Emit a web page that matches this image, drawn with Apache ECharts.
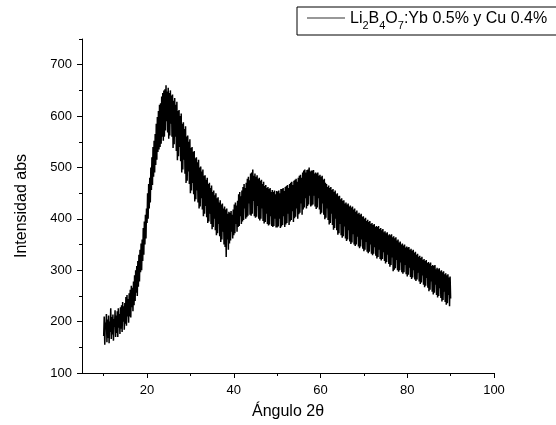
<!DOCTYPE html>
<html>
<head>
<meta charset="utf-8">
<script src="https://cdn.jsdelivr.net/npm/echarts@6/dist/echarts.min.js"></script>
<style>
html,body{margin:0;padding:0;background:#fff;}
#c{width:556px;height:425px;}
</style>
</head>
<body>
<div id="c"></div>
<script>
// Data: intensity, angle 2θ from 10 to 90 in steps of 0.125
var xStart = 10;
var xStep = 0.125;
var intensity = [
172,210,155,198,185,215,160,204, 168,212,158,200,180,226,166,209,
175,214,163,205,190,222,170,212, 178,220,170,226,188,215,176,228,
186,232,180,238,200,230,184,236, 196,248,192,252,210,244,198,255,
210,262,208,270,228,266,220,278, 232,290,240,300,256,308,250,318,
268,330,278,340,296,352,300,360, 318,382,330,395,350,408,362,420,
392,450,400,468,420,480,432,500, 456,520,466,540,482,552,490,565,
505,585,515,598,530,610,535,622, 540,625,546,638,560,645,552,650,
560,652,572,660,590,648,568,655, 556,645,562,650,585,640,560,642,
538,630,545,635,560,622,532,628, 514,610,522,612,540,600,512,605,
490,585,496,588,515,575,488,580, 470,560,474,562,492,550,468,555,
450,538,455,540,470,530,448,532, 434,518,438,520,455,510,432,515,
420,500,424,502,440,492,418,496, 405,484,410,485,425,476,403,480,
392,468,395,470,410,460,390,465, 380,452,384,455,400,446,378,450,
368,440,372,442,390,432,366,436, 355,428,360,430,375,420,350,424,
345,418,326,420,360,410,340,414, 352,412,358,415,375,408,362,418,
368,428,372,432,390,426,375,435, 384,448,386,452,405,444,390,455,
395,462,398,468,420,460,400,470, 403,478,406,482,430,475,408,488,
406,490,410,496,435,484,405,488, 402,482,404,485,425,478,400,480,
397,474,400,476,420,468,396,472, 391,464,394,466,410,460,390,462,
387,458,389,460,405,452,386,456, 384,452,386,455,400,448,383,454,
383,453,385,455,400,450,382,458, 385,458,388,460,405,454,384,462,
389,464,392,466,410,460,388,468, 395,470,398,472,415,466,394,474,
401,476,404,478,420,472,400,480, 409,484,412,486,430,480,408,490,
418,494,422,496,440,490,420,495, 425,496,428,500,445,492,424,494,
426,494,428,495,445,488,424,490, 419,488,422,490,440,484,418,486,
409,482,412,484,430,476,408,478, 399,470,402,468,420,462,398,465,
389,460,392,462,410,456,388,458, 379,452,382,455,400,448,378,450,
369,444,372,445,390,438,368,440, 363,435,366,436,385,430,362,432,
357,428,360,430,378,424,356,426, 351,422,354,424,370,418,350,420,
347,414,350,416,365,410,346,412, 343,408,346,410,360,404,342,405,
337,400,340,402,355,396,336,398, 333,394,336,396,350,390,332,392,
329,388,332,390,345,384,328,386, 323,384,326,386,340,380,322,382,
319,378,322,380,335,374,318,376, 313,372,316,374,330,368,312,370,
307,368,310,370,325,364,298,366, 301,362,304,364,320,358,300,360,
297,354,300,356,315,350,296,352, 293,348,296,350,310,344,292,346,
288,344,291,345,305,340,287,342, 283,338,286,340,300,334,282,336,
279,330,282,332,295,326,278,328, 273,324,276,326,290,320,272,322,
267,318,270,320,285,314,266,316, 259,313,262,315,278,308,258,310,
253,308,256,310,272,302,252,305, 247,302,250,304,265,298,246,300,
239,296,242,298,258,292,238,294, 233,290,236,292,252,286,230,288,
245
];
var xTickLabels = [20, 40, 60, 80, 100];
var xMinorTicks = [10, 30, 50, 70, 90];
var yTickLabels = [100, 200, 300, 400, 500, 600, 700];
var yMinorTicks = [150, 250, 350, 450, 550, 650, 750];
var seriesName = 'Li2B4O7:Yb 0.5% y Cu 0.4%';

var points = intensity.map(function (v, i) { return [xStart + i * xStep, v]; });

var font = 'Liberation Sans, Arial, sans-serif';
var chart = echarts.init(document.getElementById('c'), null, {renderer: 'canvas'});
chart.setOption({
  animation: false,
  backgroundColor: '#fff',
  grid: {left: 82, right: 62, top: 39, bottom: 52, containLabel: false},
  legend: {
    left: 297, top: 7,
    padding: [4, 40, 4, 10],
    borderColor: '#000', borderWidth: 1, borderRadius: 0,
    itemWidth: 38, itemHeight: 1, itemGap: 0,
    icon: 'rect',
    data: [{name: seriesName, itemStyle: {color: '#333'}}],
    formatter: function () {
      return '{n|Li}{s|2}{n|B}{s|4}{n|O}{s|7}{n|:Yb 0.5% y Cu 0.4%}';
    },
    textStyle: {
      fontFamily: font, fontSize: 16, color: '#000',
      rich: {
        n: {fontFamily: font, fontSize: 16, color: '#000', verticalAlign: 'bottom', lineHeight: 18},
        s: {fontFamily: font, fontSize: 11, color: '#000', verticalAlign: 'bottom', lineHeight: 11, padding: [0, 0, -4, 0]}
      }
    }
  },
  xAxis: [{
    type: 'value', min: 5, max: 100,
    name: 'Ángulo 2θ', nameLocation: 'middle', nameGap: 31,
    nameTextStyle: {fontFamily: font, fontSize: 16, color: '#000'},
    axisLine: {show: true, lineStyle: {color: '#000', width: 1}},
    axisTick: {show: true, length: 5, inside: false, lineStyle: {color: '#000'}, customValues: xTickLabels},
    axisLabel: {fontFamily: font, fontSize: 13, color: '#000', margin: 11, customValues: xTickLabels},
    splitLine: {show: false}
  }, {
    type: 'value', min: 5, max: 100, position: 'bottom',
    axisLine: {show: false},
    axisTick: {show: true, length: 3, lineStyle: {color: '#000'}, customValues: xMinorTicks},
    axisLabel: {show: false},
    splitLine: {show: false}
  }],
  yAxis: [{
    type: 'value', min: 100, max: 750,
    name: 'Intensidad abs', nameLocation: 'middle', nameGap: 52, nameRotate: 90,
    nameTextStyle: {fontFamily: font, fontSize: 16, color: '#000'},
    axisLine: {show: true, lineStyle: {color: '#000', width: 1}},
    axisTick: {show: true, length: 5, lineStyle: {color: '#000'}, customValues: yTickLabels},
    axisLabel: {fontFamily: font, fontSize: 13, color: '#000', margin: 10, customValues: yTickLabels},
    splitLine: {show: false}
  }, {
    type: 'value', min: 100, max: 750, position: 'left',
    axisLine: {show: false},
    axisTick: {show: true, length: 3, lineStyle: {color: '#000'}, customValues: yMinorTicks},
    axisLabel: {show: false},
    splitLine: {show: false}
  }],
  series: [{
    name: seriesName, type: 'line', xAxisIndex: 0, yAxisIndex: 0,
    data: points, symbol: 'none', showSymbol: false,
    lineStyle: {color: '#000', width: 1.5},
    itemStyle: {color: '#333'}
  }]
});
</script>
</body>
</html>
